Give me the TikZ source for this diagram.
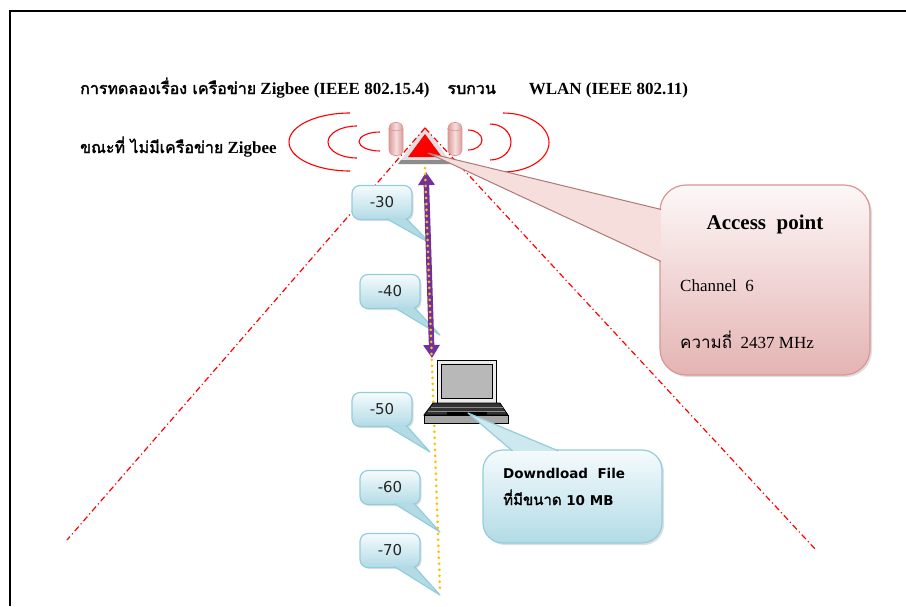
\documentclass[tikz,border=0pt]{standalone}
\usepackage{fontspec}
\setmainfont{Liberation Serif}
\newfontfamily\thaifont[Script=Thai, AutoFakeBold=2]{Loma}
\newfontfamily\uifont{DejaVu Sans}
\usetikzlibrary{shapes.geometric, arrows.meta, calc, shadows}

\definecolor{beamred}{HTML}{FF0000}
\definecolor{sigpurple}{HTML}{7030A0}
\definecolor{axisgold}{HTML}{FFC000}
\definecolor{tipline}{HTML}{93CDDC}
\definecolor{tiptop}{HTML}{F5FBFD}
\definecolor{tipbottom}{HTML}{B2DBE6}
\definecolor{apline}{HTML}{D99694}
\definecolor{aptop}{HTML}{FDF7F7}
\definecolor{apbottom}{HTML}{E4B4B3}
\definecolor{antbody}{HTML}{DB9C9B}
\definecolor{antend}{HTML}{F6DEDD}

% thai words inside latin text
\newcommand{\thaitext}[2]{{\thaifont\fontsize{#1}{#1}\selectfont #2}}

\tikzstyle{heading} = [inner sep=0pt, font=\bfseries\fontsize{17}{20}\selectfont]
\tikzstyle{wave} = [draw=beamred, line width=1.1pt]
\tikzstyle{antenna} = [rectangle, rounded corners=6pt, minimum width=14pt, minimum height=33pt, inner sep=0pt, draw=apline, line width=0.6pt, left color=antbody, right color=antbody, middle color=antend]
\tikzstyle{beam} = [draw=beamred, line width=1.2pt, dash pattern=on 6pt off 3pt on 1.2pt off 3pt]
\tikzstyle{sigbox} = [rectangle, rounded corners=8pt, minimum width=60pt, minimum height=34pt, draw=tipline, line width=1.2pt, top color=tiptop, bottom color=tipbottom, drop shadow={shadow xshift=1.5pt, shadow yshift=-1.5pt, opacity=0.25}, font=\uifont\fontsize{15}{17}\selectfont, text=black!85]
\tikzstyle{sigtip} = [draw=tipline, fill=tipbottom, line width=1.2pt, line join=round]
\tikzstyle{dlcallout} = [rectangle, rounded corners=20pt, minimum width=179pt, minimum height=93pt, draw=tipline, line width=1.2pt, top color=tiptop, bottom color=tipbottom, drop shadow={shadow xshift=2pt, shadow yshift=-2pt, opacity=0.25}]
\tikzstyle{dltext} = [anchor=base west, inner sep=0pt, font=\uifont\bfseries\fontsize{13.5}{16}\selectfont]
\tikzstyle{apcallout} = [rectangle, rounded corners=26pt, minimum width=210pt, minimum height=190pt, draw=apline, line width=1.2pt, top color=aptop, bottom color=apbottom, drop shadow={shadow xshift=2pt, shadow yshift=-2pt, opacity=0.25}]
\tikzstyle{aptip} = [draw=apline!80!black, fill=antend, line width=1pt, line join=round]
\tikzstyle{aptext} = [anchor=base west, inner sep=0pt, font=\fontsize{17}{20}\selectfont]
\tikzstyle{signal} = [draw=sigpurple, line width=5.5pt, {Triangle[width=16pt,length=13pt]}-{Triangle[width=16pt,length=13pt]}]
\tikzstyle{axis} = [draw=axisgold, line width=3pt, line cap=round, dash pattern=on 0pt off 6pt]

\begin{document}
\begin{tikzpicture}[x=1pt, y=-1pt]

    \useasboundingbox (0,0) rectangle (906,606);

    % page frame
    \draw [line width=2pt] (10,606) -- (10,11) -- (906,11);

    \node (title) [heading, anchor=base west] at (80,94) {\thaitext{16}{การทดลองเรื่อง เครือข่าย} Zigbee (IEEE 802.15.4)\hspace{18pt}\thaitext{16}{รบกวน}\hspace{33pt}WLAN (IEEE 802.11)};
    \node (subtitle) [heading, anchor=base west] at (80,153) {\thaitext{16}{ขณะที่ ไม่มีเครือข่าย} Zigbee};

    % radio waves around the access point
    \draw [wave] (350,142) ++(0,-29) arc[start angle=90, end angle=270, x radius=61pt, y radius=29pt];
    \draw [wave] (357,142) ++(0,-16) arc[start angle=90, end angle=270, x radius=29pt, y radius=16pt];
    \draw [wave] (380,141.5) ++(0,-9.5) arc[start angle=90, end angle=270, x radius=21pt, y radius=9.5pt];
    \draw [wave] (468,140) ++(0,-10) arc[start angle=90, end angle=-90, x radius=14pt, y radius=10pt];
    \draw [wave] (490,142) ++(0,-18) arc[start angle=90, end angle=-90, x radius=21pt, y radius=18pt];
    \draw [wave] (503,142.5) ++(0,-29.5) arc[start angle=90, end angle=-90, x radius=46pt, y radius=29.5pt];

    \node (antL) [antenna] at (396,139) {};
    \node (antR) [antenna] at (455,139) {};
    \draw [apline, line width=0.6pt] (antL.north west) ++(0,6) arc[start angle=180, end angle=360, x radius=7pt, y radius=2.5pt];
    \draw [apline, line width=0.6pt] (antR.north west) ++(0,6) arc[start angle=180, end angle=360, x radius=7pt, y radius=2.5pt];

    % access point symbol
    \fill [black!12] (425,126) -- (398,164) -- (452,164) -- cycle;
    \fill [black!45] (401,160) -- (449,160) -- (452,164) -- (398,164) -- cycle;
    \fill [beamred] (425,134) -- (408,157) -- (442,157) -- cycle;

    \coordinate (apex) at (425,128);
    \coordinate (edgeL) at (67,540);
    \coordinate (edgeR) at (816,550);
    \draw [beam] (apex) -- (edgeL);
    \draw [beam] (apex) -- (edgeR);

    % signal level markers
    \node (n30) [sigbox] at (382,202.5) {-30};
    \node (n40) [sigbox] at (390,291.5) {-40};
    \node (n50) [sigbox] at (382,409.5) {-50};
    \node (n60) [sigbox] at (390,487.5) {-60};
    \node (n70) [sigbox] at (390,550.5) {-70};

    \coordinate (t30) at (430,243);
    \coordinate (t40) at (440,335);
    \coordinate (t50) at (430,452);
    \coordinate (t60) at (440,532);
    \coordinate (t70) at (440,595);

    \filldraw [sigtip] ($(n30.south west)+(35,-1.5)$) -- (t30) -- ($(n30.south west)+(55,-1.5)$);
    \filldraw [sigtip] ($(n40.south west)+(35,-1.5)$) -- (t40) -- ($(n40.south west)+(55,-1.5)$);
    \filldraw [sigtip] ($(n50.south west)+(35,-1.5)$) -- (t50) -- ($(n50.south west)+(55,-1.5)$);
    \filldraw [sigtip] ($(n60.south west)+(35,-1.5)$) -- (t60) -- ($(n60.south west)+(55,-1.5)$);
    \filldraw [sigtip] ($(n70.south west)+(35,-1.5)$) -- (t70) -- ($(n70.south west)+(55,-1.5)$);

    % distance between access point and notebook
    \coordinate (sigtop) at (426,172);
    \coordinate (sigbot) at (432,358);
    \coordinate (axtop) at (425,168);
    \coordinate (axbot) at (440,590);
    \draw [signal] (sigtop) -- (sigbot);
    \draw [axis] (axtop) -- (axbot);

    % notebook
    \filldraw [fill=black!8, draw=black, line width=0.9pt] (437,360) rectangle (496,403);
    \filldraw [fill=black!28, draw=black, line width=0.8pt] (441,364) rectangle (492,398);
    \filldraw [fill=black!80, draw=black, line width=0.8pt] (433,403) -- (500,403) -- (508,415) -- (424,415) -- cycle;
    \draw [black!45, line width=0.8pt] (431,407) -- (503,407);
    \draw [black!45, line width=0.8pt] (428,411) -- (505,411);
    \fill [black] (447,412) rectangle (487,415);
    \filldraw [fill=black!35, draw=black, line width=0.8pt] (424,415) rectangle (508,423);

    \node (dlbox) [dlcallout] at (572.5,496.5) {};
    \coordinate (dltip) at (468,413);
    \filldraw [sigtip, fill=tipbottom!60!tiptop] ($(dlbox.north west)+(30,1.5)$) -- (dltip) -- ($(dlbox.north west)+(76,1.5)$);
    \node (dlname) [dltext] at (503,478) {Downdload~~File};
    \node (dlsize) [dltext] at (503,505) {\thaitext{15}{\bfseries ที่มีขนาด} 10 MB};

    \node (apbox) [apcallout] at (765,280) {};
    \coordinate (aptip) at (428,153);
    \filldraw [aptip] ($(apbox.north west)+(1.5,25)$) -- (aptip) -- ($(apbox.north west)+(1.5,77)$);
    \node (apname) [anchor=base, inner sep=0pt, font=\bfseries\fontsize{21}{24}\selectfont] at (765,229) {Access~~point};
    \node (apchan) [aptext] at (680,291) {Channel~~6};
    \node (apfreq) [aptext] at (680,348) {\thaitext{17}{ความถี่}~~2437 MHz};

\end{tikzpicture}
\end{document}
